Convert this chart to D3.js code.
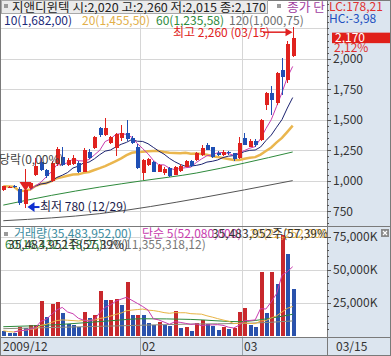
<!DOCTYPE html>
<html>
<head>
<meta charset="utf-8">
<script src="https://cdn.jsdelivr.net/npm/d3@7/dist/d3.min.js"></script>
<style>
body { margin: 0; background: #fff; }
text { font-family: "Noto Sans CJK KR", "Noto Sans", sans-serif; font-size: 12px; }
</style>
</head>
<body>
<svg id="chart" width="391" height="356"></svg>
<script>
// daily candles 2009/12/22 - 2010/03/15
const dates = ["12/22","12/23","12/24","12/28","12/29","12/30",
  "01/04","01/05","01/06","01/07","01/08","01/11","01/12","01/13","01/14","01/15","01/18","01/19","01/20","01/21","01/22","01/25","01/26","01/27","01/28","01/29",
  "02/01","02/02","02/03","02/04","02/05","02/08","02/09","02/10","02/11","02/12","02/16","02/17","02/18","02/19","02/22","02/23","02/24","02/25","02/26",
  "03/02","03/03","03/04","03/05","03/08","03/09","03/10","03/11","03/12","03/15"];
const opens  = [920,945,955,935,810,940,1050,1150,1090,1000,1140,1195,1130,1135,1145,1075,1235,1270,1430,1375,1310,1270,1350,1390,1350,1280,1065,1130,1150,1075,1060,1105,1050,1080,1115,1160,1170,1215,1290,1275,1230,1215,1235,1225,1190,1350,1280,1330,1335,1620,1720,1640,1905,1830,2020];
const highs  = [960,958,962,950,1100,990,1190,1185,1100,1160,1280,1275,1185,1210,1160,1265,1260,1370,1445,1515,1365,1390,1455,1500,1370,1300,1180,1190,1165,1140,1110,1110,1120,1135,1170,1170,1235,1290,1310,1280,1240,1250,1245,1230,1355,1390,1340,1340,1510,1730,1780,1890,2010,2150,2260];
const lows   = [915,940,940,800,780,935,1040,1080,1025,990,1120,1120,1120,1130,1065,1070,1180,1260,1360,1365,1300,1200,1330,1330,1300,1095,1005,1120,1070,1070,1050,1030,1045,1075,1110,1115,1165,1205,1250,1190,1205,1205,1215,1165,1180,1290,1275,1280,1330,1580,1540,1620,1700,1800,2015];
const closes = [955,950,945,815,925,980,1125,1090,1035,1145,1260,1130,1170,1185,1075,1250,1190,1360,1375,1432,1355,1380,1390,1345,1310,1105,1170,1175,1075,1130,1100,1035,1115,1125,1160,1120,1225,1265,1255,1195,1210,1235,1225,1175,1310,1295,1330,1290,1500,1720,1665,1880,1850,2125,2170];
// volume, thousand shares
const volumes = [4000,2600,2500,6500,6000,8000,8250,26250,14500,24000,25500,17500,9000,8000,7000,18000,13500,15750,33750,27000,27400,27600,23250,40750,15500,16000,15750,9750,8250,10750,8000,7500,19000,6200,7000,4000,9500,12000,9000,7500,4750,7000,5000,5800,18250,21250,8250,7000,48250,17000,48250,39500,76000,61830,35484];

const priceMa60  = [[0,800],[9,880],[18,948],[26,1000],[36,1063],[45,1145],[54,1236]];
const priceMa120 = [[0,672],[18,730],[37,860],[45,925],[54,1001]];
const volMa60    = [[0,7000],[10,8500],[20,11500],[26,13000],[35,12500],[44,10800],[50,13500],[54,16400]];
const volMa120   = [[0,5500],[20,7500],[35,9000],[45,9500],[54,11355]];

const priceTicks = [750, 1000, 1250, 1500, 1750, 2000];
const priceGrid = [750, 1000, 1250, 1500, 1750, 2000, 2250];
const volTicks = [25000, 50000, 75000];
const monthTicks = ["12/22", "02/01", "03/02"];
const monthLabels = ["2009/12", "02", "03"];

const svg = d3.select("#chart");
const axisX = 327, priceBottom = 226, volTop = 228, volBottom = 337;
const UP = "#e0221e", DOWN = "#1f4fb4";
const fmt = d3.format(",");

const x = d3.scalePoint().domain(dates).range([3.3, 292.7]);
const step = x.step();
const yP = d3.scaleLinear().domain([750, 2250]).range([211.2, 28.4]);
const yV = d3.scaleLinear().domain([0, 75000]).range([336, 236.5]);
const px = d => Math.round(x(d)) + 0.5;

const defs = svg.append("defs");
defs.append("clipPath").attr("id", "clipP").append("rect").attr("x", 0).attr("y", 0).attr("width", axisX).attr("height", priceBottom);
defs.append("clipPath").attr("id", "clipV").append("rect").attr("x", 0).attr("y", volTop).attr("width", axisX).attr("height", volBottom - volTop);
defs.append("clipPath").attr("id", "clipL").append("rect").attr("x", 0).attr("y", 0).attr("width", axisX).attr("height", 356);

// right axis panel and date strip
svg.append("rect").attr("x", axisX).attr("y", 0).attr("width", 391 - axisX).attr("height", 356).attr("fill", "#dce5ef");
svg.append("rect").attr("x", 0).attr("y", volBottom).attr("width", 391).attr("height", 356 - volBottom).attr("fill", "#dce5ef");

// grid
const grid = svg.append("g").attr("stroke", "#d6d6d6").attr("shape-rendering", "crispEdges");
grid.selectAll(".gp").data(priceGrid).join("line")
  .attr("x1", 0).attr("x2", axisX)
  .attr("y1", d => Math.round(yP(d)) + 0.5).attr("y2", d => Math.round(yP(d)) + 0.5);
grid.selectAll(".gv").data(volTicks).join("line")
  .attr("x1", 0).attr("x2", axisX)
  .attr("y1", d => Math.round(yV(d)) + 0.5).attr("y2", d => Math.round(yV(d)) + 0.5);
const monthX = monthTicks.slice(1).map(d => Math.round(x(d) - step / 2) + 0.5);
grid.selectAll(".gm").data(monthX).join("line")
  .attr("x1", d => d).attr("x2", d => d).attr("y1", 0).attr("y2", volBottom);
svg.append("g").attr("stroke", "#9aa3ad").attr("shape-rendering", "crispEdges")
  .selectAll("line").data(monthX).join("line")
  .attr("x1", d => d).attr("x2", d => d).attr("y1", volBottom).attr("y2", 356);

// moving averages
function movingAvg(values, n, start) {
  return values.map((v, i) => i < start ? null : d3.mean(values.slice(Math.max(0, i - n + 1), i + 1)));
}
const lineP = d3.line().defined(d => d != null).x((d, i) => x(dates[i])).y(d => yP(d));
const lineV = d3.line().defined(d => d != null).x((d, i) => x(dates[i])).y(d => yV(d));
const readP = d3.line().x(d => x(dates[d[0]])).y(d => yP(d[1])).curve(d3.curveMonotoneX);
const readV = d3.line().x(d => x(dates[d[0]])).y(d => yV(d[1])).curve(d3.curveMonotoneX);

const price = svg.append("g").attr("clip-path", "url(#clipP)").attr("fill", "none");
price.append("path").attr("d", readP(priceMa120)).attr("stroke", "#555").attr("stroke-width", 1);
price.append("path").attr("d", readP(priceMa60)).attr("stroke", "#2e8a3c").attr("stroke-width", 1);
price.append("path").attr("d", lineP(movingAvg(closes, 20, 0))).attr("stroke", "#eab64e").attr("stroke-width", 2.5);

// candles
const idx = d3.range(dates.length);
const cg = svg.append("g").attr("clip-path", "url(#clipP)").attr("shape-rendering", "crispEdges");
cg.selectAll("line").data(idx).join("line")
  .attr("x1", i => px(dates[i])).attr("x2", i => px(dates[i]))
  .attr("y1", i => yP(highs[i])).attr("y2", i => yP(lows[i]))
  .attr("stroke", i => closes[i] >= opens[i] ? UP : DOWN);
cg.selectAll("rect").data(idx).join("rect")
  .attr("x", i => px(dates[i]) - 2).attr("width", 4)
  .attr("y", i => yP(Math.max(opens[i], closes[i])))
  .attr("height", i => Math.max(1, Math.abs(yP(opens[i]) - yP(closes[i]))))
  .attr("fill", i => closes[i] >= opens[i] ? UP : DOWN);

price.append("path").attr("d", lineP(movingAvg(closes, 10, 5))).attr("stroke", "#1c2370").attr("stroke-width", 1);
price.append("path").attr("d", lineP(movingAvg(closes, 5, 5))).attr("stroke", "#c83cae").attr("stroke-width", 1);

// volume bars, coloured by change against the day before
const vg = svg.append("g").attr("clip-path", "url(#clipV)").attr("shape-rendering", "crispEdges");
vg.selectAll("rect").data(idx).join("rect")
  .attr("x", i => px(dates[i]) - 2).attr("width", 4)
  .attr("y", i => yV(volumes[i])).attr("height", i => yV(0) - yV(volumes[i]))
  .attr("fill", i => i > 0 && volumes[i] > volumes[i - 1] ? "#c8282c" : "#2a52ac");
const vol = svg.append("g").attr("clip-path", "url(#clipV)").attr("fill", "none").attr("stroke-width", 1);
vol.append("path").attr("d", readV(volMa120)).attr("stroke", "#8c8c7a");
vol.append("path").attr("d", readV(volMa60)).attr("stroke", "#2e8a3c");
vol.append("path").attr("d", lineV(movingAvg(volumes, 20, 0))).attr("stroke", "#e8b444");
vol.append("path").attr("d", lineV(movingAvg(volumes, 5, 2))).attr("stroke", "#c83cae");

// panel borders
const frame = svg.append("g").attr("stroke", "#7a7a7a").attr("shape-rendering", "crispEdges");
frame.append("line").attr("x1", 0).attr("x2", 391).attr("y1", 226.5).attr("y2", 226.5);
frame.append("line").attr("x1", 0).attr("x2", 391).attr("y1", volBottom + 0.5).attr("y2", volBottom + 0.5);
frame.append("line").attr("x1", axisX + 0.5).attr("x2", axisX + 0.5).attr("y1", 0).attr("y2", 356);
frame.append("rect").attr("x", 0.5).attr("y", 0.5).attr("width", 390).attr("height", 355).attr("fill", "none");

// right axes
function styleAxis(g) {
  g.select(".domain").remove();
  g.attr("color", "#555").attr("shape-rendering", "crispEdges");
  g.selectAll("text").attr("fill", "#333");
}
svg.append("g").attr("transform", `translate(${axisX},0)`)
  .call(d3.axisRight(yP).tickValues(d3.range(650, 2451, 50).filter(v => yP(v) > 2 && yP(v) < 225)).tickSize(2).tickFormat(""))
  .call(styleAxis);
svg.append("g").attr("transform", `translate(${axisX},0)`)
  .call(d3.axisRight(yP).tickValues(priceTicks).tickSize(4).tickPadding(2).tickFormat(fmt))
  .call(styleAxis);
svg.append("g").attr("transform", `translate(${axisX},0)`)
  .call(d3.axisRight(yV).tickValues(d3.range(5000, 85001, 5000).filter(v => yV(v) > volTop + 2)).tickSize(2).tickFormat(""))
  .call(styleAxis);
svg.append("g").attr("transform", `translate(${axisX},0)`)
  .call(d3.axisRight(yV).tickValues(volTicks).tickSize(4).tickPadding(2).tickFormat(d => fmt(d) + "K"))
  .call(styleAxis);

// dates
svg.append("g").selectAll("text").data(monthTicks).join("text")
  .attr("x", (d, i) => i === 0 ? 3 : Math.round(x(d) - step / 2) + 2)
  .attr("y", 351).attr("fill", "#333").text((d, i) => monthLabels[i]);
svg.append("text").attr("x", 336).attr("y", 351).attr("fill", "#333").text(dates[dates.length - 1]);

// header
const last = dates.length - 1;
svg.append("rect").attr("x", 1.5).attr("y", 0.5).attr("width", 266).attr("height", 13).attr("fill", "#ebebeb").attr("stroke", "#a8a8a8");
svg.append("rect").attr("x", 4).attr("y", 4).attr("width", 4).attr("height", 4).attr("fill", "#9a9a9a");
svg.append("text").attr("x", 12).attr("y", 12).attr("fill", "#222")
  .attr("textLength", 254).attr("lengthAdjust", "spacingAndGlyphs")
  .text(`지앤디윈텍 시:${fmt(opens[last])} 고:${fmt(highs[last])} 저:${fmt(lows[last])} 종:${fmt(closes[last])}`);
svg.append("rect").attr("x", 277).attr("y", 4).attr("width", 4).attr("height", 4).attr("fill", "#9a9a9a");
svg.append("text").attr("x", 287).attr("y", 12).attr("fill", "#a040a0")
  .attr("textLength", 38).attr("lengthAdjust", "spacingAndGlyphs").text("종가 단");

const legend = [["10(1,682,00)", "#1c2a78", 4], ["20(1,455,50)", "#e2b04a", 82], ["60(1,235,58)", "#2e8a3c", 156], ["120(1,000,75)", "#6f6f6f", 229]];
svg.append("g").selectAll("text").data(legend).join("text")
  .attr("x", d => d[2]).attr("y", 24.5).attr("fill", d => d[1]).text(d => d[0]);

svg.append("text").attr("x", 329).attr("y", 10.5).attr("fill", "#e03030").text("LC:178,21");
svg.append("text").attr("x", 329).attr("y", 23).attr("fill", "#2050c0").text("HC:-3,98");

// last price tag
const lastY = yP(closes[last]);
svg.append("rect").attr("x", 332).attr("y", lastY - 5.5).attr("width", 58).attr("height", 10.5).attr("fill", "#e0201a");
svg.append("text").attr("x", 335).attr("y", lastY + 4).attr("fill", "#fff").text(fmt(closes[last]));
svg.append("text").attr("x", 334).attr("y", lastY + 14).attr("fill", "#e03030").text("2,12%");

// high / low notes
const hiX = px(dates[last]), hiY = yP(highs[last]) + 5;
svg.append("text").attr("x", 173).attr("y", 37).attr("fill", "#e02020").text(`최고 ${fmt(highs[last])} (${dates[last]})`);
svg.append("line").attr("x1", 263).attr("x2", hiX - 6).attr("y1", hiY).attr("y2", hiY).attr("stroke", "#e02020").attr("stroke-width", 1.5);
svg.append("path").attr("d", `M${hiX - 1},${hiY} L${hiX - 8},${hiY - 4} L${hiX - 8},${hiY + 4} Z`).attr("fill", "#e02020");

const loX = px(dates[4]), loY = yP(lows[4]) - 0.5;
svg.append("path").attr("d", `M${loX + 2},${loY} L${loX + 9},${loY - 5} L${loX + 9},${loY + 5} Z`).attr("fill", "#1030d0");
svg.append("line").attr("x1", loX + 8).attr("x2", loX + 14).attr("y1", loY).attr("y2", loY).attr("stroke", "#1030d0").attr("stroke-width", 2);
svg.append("text").attr("x", 40).attr("y", loY + 4).attr("fill", "#1a1a4a").text(`최저 ${lows[4]} (${dates[4]})`);

svg.append("text").attr("x", -1).attr("y", 164).attr("fill", "#444").text("당락(0,00%)");
svg.append("path").attr("d", `M${loX - 6},182 L${loX + 6},182 L${loX},191 Z`).attr("fill", "#e0221e");

// volume legend (overlapping labels as in the original)
const vl = svg.append("g").attr("clip-path", "url(#clipL)");
svg.append("rect").attr("x", 4).attr("y", 232).attr("width", 4).attr("height", 4).attr("fill", "#9a9a9a");
vl.append("text").attr("x", 14).attr("y", 238).attr("fill", "#3d8ca0").text("거래량(35,483,952,00)");
vl.append("text").attr("x", 142).attr("y", 238).attr("fill", "#c83cae").text("단순 5(52,080,000)");
vl.append("text").attr("x", 250).attr("y", 238).attr("fill", "#e8b444").text("20(22,252,000)");
vl.append("text").attr("x", 212).attr("y", 238).attr("fill", "#333").text("35,483,952주(57,39%)");
vl.append("text").attr("x", 101).attr("y", 249).attr("fill", "#777").text("120(11,355,318,12)");
vl.append("text").attr("x", 5).attr("y", 249).attr("fill", "#2e8a3c").text("60(16,432,118,25)");
vl.append("text").attr("x", 8).attr("y", 249).attr("fill", "#333").text("35,483,952주(57,39%)");

svg.append("rect").attr("x", 381).attr("y", 229).attr("width", 8).attr("height", 8).attr("fill", "#8a8a8a");
svg.append("path").attr("d", "M383,231 L387,235 M387,231 L383,235").attr("stroke", "#fff").attr("stroke-width", 1.2);
</script>
</body>
</html>
